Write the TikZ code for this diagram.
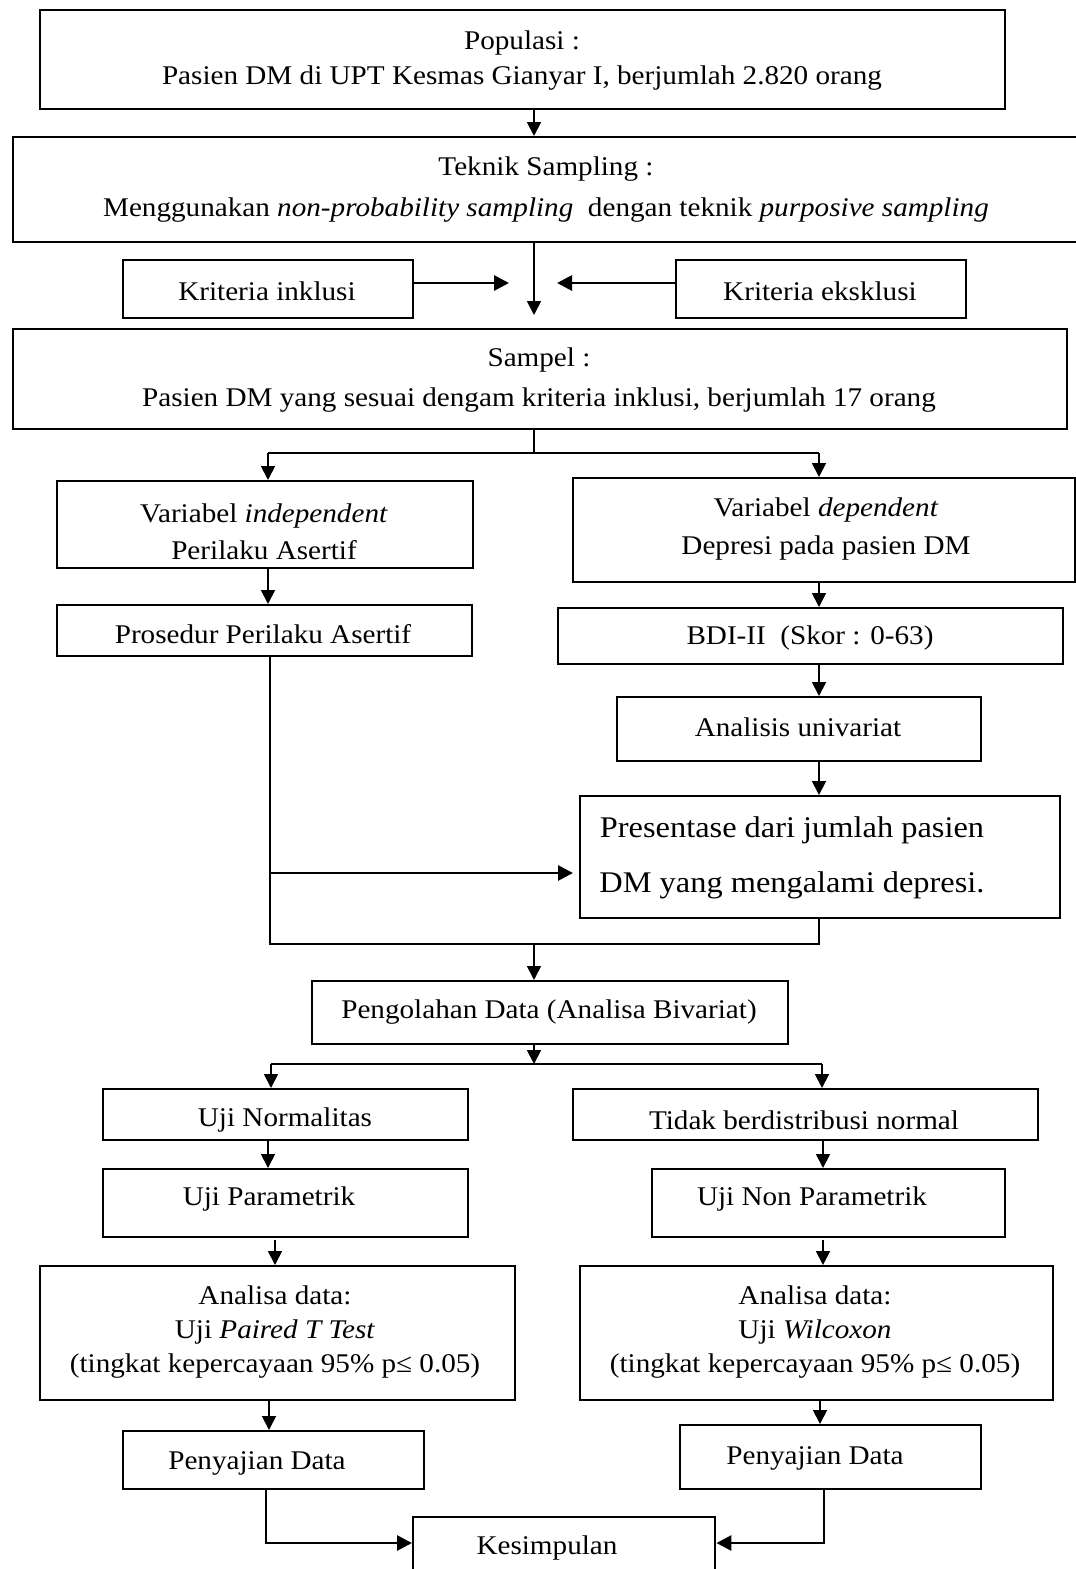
\documentclass[tikz,border=0pt]{standalone}
\usepackage{fontspec}
\setmainfont{Liberation Serif}[FakeStretch=1.08]
\usetikzlibrary{arrows.meta}
\begin{document}
\begin{tikzpicture}[x=1pt,y=-1pt,
  box/.style={draw, line width=2.4pt, rectangle, inner sep=0pt, anchor=north west},
  txt/.style={align=center, inner sep=0pt, yshift=-3pt, font=\fontsize{27}{35}\selectfont},
  conn/.style={line width=1.8pt},
  arr/.style={line width=1.8pt, -{Triangle[length=14pt,width=14pt]}},
  tarr/.style={line width=2.8pt, -{Triangle[length=15pt,width=15pt]}},
  thinl/.style={line width=1.1pt}]
\useasboundingbox (0,0) rectangle (1076,1569);

% boxes
\node[box, minimum width=965pt, minimum height=99pt] (pop) at (39,9) {};
\node[box, minimum width=1070pt, minimum height=105pt] (tek) at (12,136) {};
\node[box, minimum width=290pt, minimum height=58pt] (inc) at (122,259) {};
\node[box, minimum width=290pt, minimum height=58pt] (exc) at (675,259) {};
\node[box, minimum width=1054pt, minimum height=100pt] (smp) at (12,328) {};
\node[box, minimum width=416pt, minimum height=87pt] (ind) at (56,480) {};
\node[box, minimum width=502pt, minimum height=104pt] (dep) at (572,477) {};
\node[box, minimum width=415pt, minimum height=51pt] (pro) at (56,604) {};
\node[box, minimum width=505pt, minimum height=56pt] (bdi) at (557,607) {};
\node[box, minimum width=364pt, minimum height=64pt] (uni) at (616,696) {};
\node[box, minimum width=480pt, minimum height=122pt] (pre) at (579,795) {};
\node[box, minimum width=476pt, minimum height=63pt] (olah) at (311,980) {};
\node[box, minimum width=365pt, minimum height=51pt] (nor) at (102,1088) {};
\node[box, minimum width=465pt, minimum height=51pt] (tdk) at (572,1088) {};
\node[box, minimum width=365pt, minimum height=68pt] (par) at (102,1168) {};
\node[box, minimum width=353pt, minimum height=68pt] (npar) at (651,1168) {};
\node[box, minimum width=475pt, minimum height=134pt] (anl) at (39,1265) {};
\node[box, minimum width=473pt, minimum height=134pt] (anr) at (579,1265) {};
\node[box, minimum width=301pt, minimum height=58pt] (pyl) at (122,1430) {};
\node[box, minimum width=301pt, minimum height=64pt] (pyr) at (679,1424) {};
\node[box, minimum width=302pt, minimum height=84pt] (kes) at (412,1516) {};

% texts
\node[txt] (popt) at (522,58) {Populasi :\\Pasien DM di UPT Kesmas Gianyar I, berjumlah 2.820 orang};
\node[txt, font=\fontsize{27}{41}\selectfont] (tekt) at (546,187) {Teknik Sampling :\\Menggunakan \textit{non-probability sampling}\ \ dengan teknik \textit{purposive sampling}};
\node[txt] (inct) at (267,288) {Kriteria inklusi};
\node[txt] (exct) at (820,288) {Kriteria eksklusi};
\node[txt, font=\fontsize{27}{40}\selectfont] (smpt) at (539,377) {Sampel :\\Pasien DM yang sesuai dengam kriteria inklusi, berjumlah 17 orang};
\node[txt, font=\fontsize{27}{37}\selectfont] (indt) at (264,529) {Variabel \textit{independent}\\Perilaku Asertif};
\node[txt, font=\fontsize{27}{38}\selectfont] (dept) at (826,526) {Variabel \textit{dependent}\\Depresi pada pasien DM};
\node[txt] (prot) at (263,631) {Prosedur Perilaku Asertif};
\node[txt] (bdit) at (810,635) {BDI-II\ \ (Skor : 0-63)};
\node[txt] (unit) at (798,724) {Analisis univariat};
\node[txt, font=\fontsize{30}{55}\selectfont] (pret) at (792,855) {Presentase dari jumlah pasien\\DM yang mengalami depresi.};
\node[txt] (olaht) at (549,1009) {Pengolahan Data (Analisa Bivariat)};
\node[txt] (nort) at (285,1117) {Uji Normalitas};
\node[txt] (tdkt) at (804,1117) {Tidak berdistribusi normal};
\node[txt] (part) at (269,1196) {Uji Parametrik};
\node[txt] (npart) at (812,1196) {Uji Non Parametrik};
\node[txt, font=\fontsize{27}{34}\selectfont] (anlt) at (275,1329) {Analisa data:\\Uji \textit{Paired T Test}\\(tingkat kepercayaan 95\% p≤ 0.05)};
\node[txt, font=\fontsize{27}{34}\selectfont] (anrt) at (815,1329) {Analisa data:\\Uji \textit{Wilcoxon}\\(tingkat kepercayaan 95\% p≤ 0.05)};
\node[txt] (pylt) at (257,1460) {Penyajian Data};
\node[txt] (pyrt) at (815,1455) {Penyajian Data};
\node[txt] (kest) at (547,1545) {Kesimpulan};

% helper coordinates
\coordinate (cx) at (534,0);
\coordinate (j1) at (534,315);
\coordinate (ji) at (509,283);
\coordinate (je) at (557,283);
\coordinate (s1) at (268,453);
\coordinate (s2) at (819,453);
\coordinate (p1) at (270,873);
\coordinate (p2) at (573,873);
\coordinate (m1) at (270,944);
\coordinate (m2) at (819,944);
\coordinate (b0) at (534,1064);
\coordinate (b1) at (271,1064);
\coordinate (b2) at (822,1064);
\coordinate (k1) at (266,1543);
\coordinate (k2) at (824,1543);

% connectors
\draw[arr] (pop.south -| cx) -- (tek.north -| cx);
\draw[arr] (tek.south -| cx) -- (j1);
\draw[tarr] (inc.east |- ji) -- (ji);
\draw[tarr] (exc.west |- je) -- (je);

\draw[thinl] (smp.south -| cx) -- (cx |- s1);
\draw[conn] (s1) -- (s2);
\draw[arr] (s1) -- (ind.north -| s1);
\draw[arr] (s2) -- (dep.north -| s2);

\draw[arr] (ind.south -| s1) -- (pro.north -| s1);
\draw[arr] (dep.south -| s2) -- (bdi.north -| s2);
\draw[arr] (bdi.south -| s2) -- (uni.north -| s2);
\draw[arr] (uni.south -| s2) -- (pre.north -| s2);

\draw[thinl] (pro.south -| m1) -- (m1) -- (m2) -- (pre.south -| m2);
\draw[tarr] (p1) -- (p2);
\draw[arr] (cx |- m1) -- (olah.north -| cx);

\draw[arr] (olah.south -| cx) -- (b0);
\draw[conn] (b1) -- (b2);
\draw[arr] (b1) -- (nor.north -| b1);
\draw[arr] (b2) -- (tdk.north -| b2);

\draw[arr] (268,1139) -- (par.north -| 268,0);
\draw[arr] (823,1139) -- (npar.north -| 823,0);
\draw[arr] (275,1240) -- (anl.north -| 275,0);
\draw[arr] (823,1240) -- (anr.north -| 823,0);
\draw[arr] (anl.south -| 269,0) -- (pyl.north -| 269,0);
\draw[arr] (anr.south -| 820,0) -- (pyr.north -| 820,0);

\draw[tarr] (pyl.south -| k1) -- (k1) -- (kes.west |- k1);
\draw[tarr] (pyr.south -| k2) -- (k2) -- (kes.east |- k2);
\end{tikzpicture}
\end{document}
